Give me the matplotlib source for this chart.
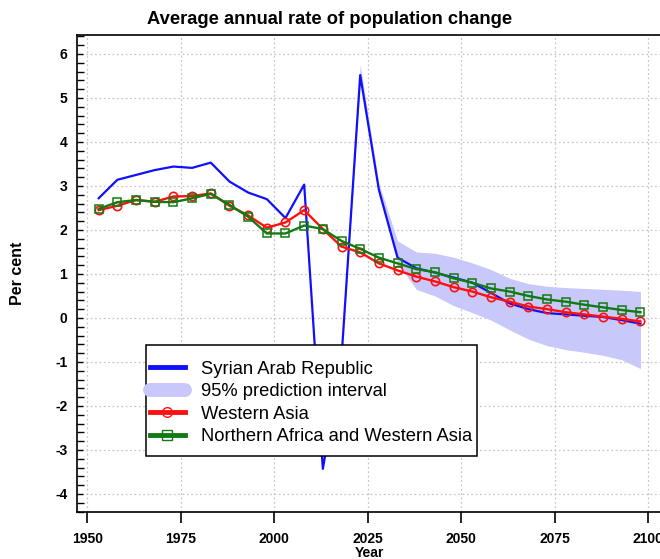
import matplotlib
matplotlib.use("Agg")
import matplotlib.pyplot as plt
from matplotlib.ticker import MultipleLocator
from matplotlib.lines import Line2D
from matplotlib.patches import Rectangle

plt.rcParams['font.family'] = ['Liberation Sans', 'DejaVu Sans']
plt.rcParams['axes.unicode_minus'] = False

years = [1953 + 5 * i for i in range(30)]

syria = [2.72, 3.14, 3.25, 3.36, 3.44, 3.41, 3.53, 3.10, 2.85, 2.70,
         2.27, 3.03, -3.43, -0.90, 5.52, 2.91, 1.37, 1.13, 1.03, 0.92,
         0.80, 0.57, 0.33, 0.20, 0.11, 0.08, 0.05, 0.02, -0.05, -0.13]

western_asia = [2.45, 2.55, 2.68, 2.64, 2.76, 2.77, 2.83, 2.55, 2.33, 2.05,
                2.17, 2.45, 2.02, 1.62, 1.49, 1.24, 1.08, 0.94, 0.83, 0.70,
                0.60, 0.47, 0.37, 0.26, 0.20, 0.13, 0.08, 0.03, -0.02, -0.08]

nafr_wasia = [2.48, 2.63, 2.68, 2.64, 2.63, 2.72, 2.82, 2.57, 2.30, 1.92,
              1.92, 2.10, 2.02, 1.75, 1.57, 1.37, 1.24, 1.11, 1.04, 0.90,
              0.80, 0.67, 0.60, 0.50, 0.42, 0.37, 0.30, 0.24, 0.18, 0.13]

pi_years = [2018 + 5 * i for i in range(17)]
pi_lower = [-0.90, 5.35, 2.80, 1.25, 0.65, 0.50, 0.28, 0.12, -0.05, -0.27,
            -0.48, -0.63, -0.72, -0.78, -0.85, -0.95, -1.15]
pi_upper = [-0.90, 5.75, 3.05, 1.75, 1.50, 1.47, 1.38, 1.25, 1.10, 0.90,
            0.78, 0.72, 0.69, 0.67, 0.65, 0.63, 0.60]

xticks = [1950, 1975, 2000, 2025, 2050, 2075, 2100]
yticks = [-4, -3, -2, -1, 0, 1, 2, 3, 4, 5, 6]

BLUE = '#1010ff'
RED = '#ff1010'
GREEN = '#127a12'
BAND = '#c8c8fa'

W, H = 660, 559
fig = plt.figure(figsize=(6.6, 5.59), dpi=100)
ax = fig.add_axes([77 / W, 1 - 512 / H, (661 - 77) / W, (512 - 35) / H])

ax.fill_between(pi_years, pi_lower, pi_upper, color=BAND, lw=0, zorder=1)
ax.plot(years, syria, color=BLUE, lw=1.6, zorder=3)
ax.plot(years, western_asia, color=RED, lw=1.7, marker='o', ms=6,
        mfc='none', mec=RED, mew=1.2, zorder=4)
ax.plot(years, nafr_wasia, color=GREEN, lw=1.7, marker='s', ms=6,
        mfc='none', mec=GREEN, mew=1.1, zorder=5)

ax.set_xlim(1947.2, 2103.5)
ax.set_ylim(-4.41, 6.43)
ax.set_xticks(xticks)
ax.set_yticks(yticks)
ax.yaxis.set_minor_locator(MultipleLocator(0.2))
ax.grid(True, which='major', color='#c8c8c8', ls=(0, (1.5, 2)), lw=0.9)
ax.set_axisbelow(True)

for s in ax.spines.values():
    s.set_linewidth(1.2)
ax.spines['right'].set_visible(False)

ax.tick_params(axis='x', direction='out', length=8, width=1.2, pad=6.5,
               labelsize=10)
ax.tick_params(axis='y', which='major', direction='in', length=4, width=1.0,
               pad=7, labelsize=10)
ax.tick_params(axis='y', which='minor', direction='in', length=5, width=1.0)
for lab in ax.get_xticklabels() + ax.get_yticklabels():
    lab.set_fontweight('bold')

fig.text(369 / W, 1 - 553 / H, 'Year', fontsize=10, fontweight='bold',
         ha='center', va='center')
fig.text(18 / W, 1 - 273 / H, 'Per cent', rotation=90, fontsize=11.5,
         fontweight='bold', ha='center', va='center')
fig.text(0.5, 1 - 19 / H, 'Average annual rate of population change',
         fontsize=13.2, fontweight='bold', ha='center', va='center')

# legend box
box = Rectangle((146 / W, 1 - 456 / H), (477 - 146) / W, (456 - 345) / H,
                transform=fig.transFigure, facecolor='white',
                edgecolor='black', lw=1.1, zorder=9, clip_on=False)
ax.add_patch(box)

handles = [
    Line2D([], [], color=BLUE, lw=3.5),
    Line2D([], [], color=BAND, lw=10, solid_capstyle='round'),
    Line2D([], [], color=RED, lw=3.5, marker='o', ms=7, mfc='none', mec=RED),
    Line2D([], [], color=GREEN, lw=3.5, marker='s', ms=7, mfc='none', mec=GREEN),
]
labels = ['Syrian Arab Republic', '95% prediction interval', 'Western Asia',
          'Northern Africa and Western Asia']
leg = ax.legend(handles, labels, loc='upper left',
                bbox_to_anchor=(150 / W, 1 - 360.6 / H),
                bbox_transform=fig.transFigure,
                fontsize=13.2, frameon=False, handlelength=1.9,
                handletextpad=0.87, labelspacing=0.3, borderpad=0,
                borderaxespad=0)
leg.set_zorder(10)

fig.savefig('out.png', dpi=100)
